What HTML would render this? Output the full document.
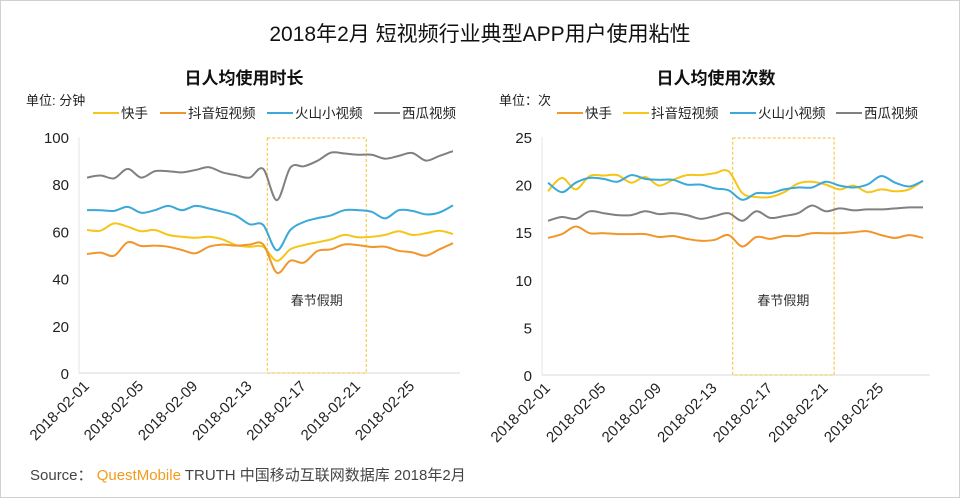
<!DOCTYPE html>
<html><head><meta charset="utf-8"><style>
body{margin:0;background:#fff;}
svg{display:block;font-family:"Liberation Sans","Noto Sans CJK SC",sans-serif;}
</style></head><body>
<svg id="s" width="960" height="498" viewBox="0 0 960 498">
<rect x="0.5" y="0.5" width="959" height="497" fill="#fff" stroke="#d0d0d0"/>
<text x="480" y="41" text-anchor="middle" font-size="21" fill="#111">2018年2月 短视频行业典型APP用户使用粘性</text>
<text x="30" y="480" font-size="15" fill="#444">Source： <tspan fill="#f29b1d">QuestMobile</tspan> TRUTH 中国移动互联网数据库 2018年2月</text>
</svg>
<script>
const dates=[];for(let d=1;d<=28;d++)dates.push('2018-02-'+String(d).padStart(2,'0'));
const tickDates=['2018-02-01','2018-02-05','2018-02-09','2018-02-13','2018-02-17','2018-02-21','2018-02-25'];
const leftTicks=[0,20,40,60,80,100];
const rightTicks=[0,5,10,15,20,25];
const leftNames=['快手','抖音短视频','火山小视频','西瓜视频'];
const rightNames=['快手','抖音短视频','火山小视频','西瓜视频'];
const leftKuaishou=[60.6,60.3,63.4,62,60.1,60.6,58.5,57.7,57.3,57.7,56.6,54.2,53.5,53.5,47.5,52.4,54.2,55.4,56.6,58.5,57.5,57.7,58.5,60.1,58.5,59.2,60.3,58.9];
const leftDouyin=[50.4,51,49.7,55.4,53.8,54,53.5,52.1,50.7,53.5,54.4,54,54.4,54.5,42.5,47.6,46.8,51.7,52.4,54.5,54.2,53.4,53.5,51.8,51.1,49.7,52.4,55];
const leftHuoshan=[69,69,68.7,70.4,67.9,69,70.8,69,70.8,69.7,68.3,66.6,63,62.7,52,60.6,64,65.6,66.8,69,69,68.3,65.5,69,68.7,67.2,68,71];
const leftXigua=[82.8,83.7,82.5,86.5,82.8,85.5,85.5,85,86,87.2,85,83.8,82.8,86.5,73.2,87,87.6,89.9,93.4,93,92.5,92.5,90.8,92,93.2,90,92,94];
const rightKuaishou=[14.4,14.8,15.6,14.9,14.9,14.8,14.8,14.8,14.5,14.6,14.3,14.1,14.2,14.7,13.5,14.5,14.3,14.6,14.6,14.9,14.9,14.9,15,15.1,14.7,14.4,14.7,14.4];
const rightDouyin=[19.3,20.7,19.5,20.9,20.95,21,20.2,20.8,19.9,20.5,21,21,21.2,21.4,19.1,18.7,18.7,19.2,20.1,20.3,20,19.5,19.9,19.2,19.5,19.3,19.5,20.4];
const rightHuoshan=[20.2,19.2,20.2,20.7,20.6,20.3,21,20.6,20.5,20.5,20,20,19.6,19.4,18.4,19.1,19.1,19.5,19.7,19.7,20.3,19.9,19.7,20,20.9,20.2,19.8,20.4];
const rightXigua=[16.2,16.6,16.4,17.2,17,16.8,16.8,17.2,16.9,17,16.8,16.4,16.7,17,16.2,17.2,16.5,16.7,17,17.8,17.2,17.5,17.3,17.4,17.4,17.5,17.6,17.6];
const holidayStart=14.3, holidayEnd=21.6;

const NS='http://www.w3.org/2000/svg';const svg=document.getElementById('s');
function mk(tag,at,parent){const e=document.createElementNS(NS,tag);for(const k in at)e.setAttribute(k,at[k]);(parent||svg).appendChild(e);return e;}
function smooth(pts){let d='M'+pts[0][0]+','+pts[0][1];for(let i=0;i<pts.length-1;i++){const p0=pts[Math.max(0,i-1)],p1=pts[i],p2=pts[i+1],p3=pts[Math.min(pts.length-1,i+2)];const c1x=p1[0]+(p2[0]-p0[0])/6,c1y=p1[1]+(p2[1]-p0[1])/6,c2x=p2[0]-(p3[0]-p1[0])/6,c2y=p2[1]-(p3[1]-p1[1])/6;d+=' C'+c1x.toFixed(1)+','+c1y.toFixed(1)+' '+c2x.toFixed(1)+','+c2y.toFixed(1)+' '+p2[0].toFixed(1)+','+p2[1].toFixed(1);}return d;}

function chart(o){
  const g=mk('g',{});
  
  
  const x=i=>o.x0+i*(o.x1-o.x0)/(dates.length-1);
  const y=v=>o.yb-(v/o.max)*(o.yb-o.yt);
  const t=mk('text',{x:o.titleX,y:84,'text-anchor':'middle','font-size':17,'font-weight':'bold',fill:'#111'},g);t.textContent=o.title;
  
  
  const u=mk('text',{x:o.unitX,y:105,'font-size':13,fill:'#222'},g);u.textContent=o.unit;
  
  
  o.ticks.forEach(v=>{const tx=mk('text',{x:o.axisX-10,y:y(v)+6,'text-anchor':'end','font-size':15,fill:'#222'},g);tx.textContent=v;
    
    });
  const ax=mk('line',{x1:o.axisX,y1:o.yt,x2:o.axisX,y2:o.yb,stroke:'#e4e4e4'},g);
  
  
  const bx=mk('line',{x1:o.axisX,y1:o.yb,x2:o.axisEnd,y2:o.yb,stroke:'#d9d9d9'},g);
  
  
  tickDates.forEach(dl=>{const i=dates.indexOf(dl);const px=x(i)+3,py=o.yb+14;const tx=mk('text',{x:px,y:py,'text-anchor':'end','font-size':15,fill:'#222',transform:'rotate(-45 '+px+' '+py+')'},g);tx.textContent=dl;
    
    });
  const hx0=x(holidayStart-1),hx1=x(holidayEnd-1);
  const hb=mk('rect',{x:hx0,y:o.yt+1,width:hx1-hx0,height:o.yb-o.yt-1,fill:'none',stroke:'#f2c12e','stroke-dasharray':'3,2','stroke-width':1},g);
  
  
  const ht=mk('text',{x:(hx0+hx1)/2,y:305,'text-anchor':'middle','font-size':13,fill:'#333'},g);ht.textContent='春节假期';
  
  
  o.series.forEach((s,k)=>{
    const p=mk('path',{d:smooth(s.data.map((v,i)=>[x(i),y(v)])),fill:'none',stroke:s.color,'stroke-width':2},g);
    
    
    const lx=o.legX[k];
    const ll=mk('line',{x1:lx,y1:113,x2:lx+26,y2:113,stroke:s.color,'stroke-width':2},g);
    
    
    const lt=mk('text',{x:lx+28,y:118,'font-size':13.5,fill:'#222'},g);lt.textContent=s.label;
    
    
  });
}
chart({name:'left-chart',title:'日人均使用时长',titleX:244,unit:'单位: 分钟',unitX:26,x0:87,x1:453,yt:137,yb:373,max:100,ticks:leftTicks,axisX:79,axisEnd:460,legX:[93,160,267,374],
 series:[{key:'kuaishou',label:leftNames[0],data:leftKuaishou,color:'#f5c518'},{key:'douyin',label:leftNames[1],data:leftDouyin,color:'#f0962a'},{key:'huoshan',label:leftNames[2],data:leftHuoshan,color:'#3aa8d8'},{key:'xigua',label:leftNames[3],data:leftXigua,color:'#808080'}]});
chart({name:'right-chart',title:'日人均使用次数',titleX:716,unit:'单位：次',unitX:499,x0:548,x1:923,yt:137,yb:375,max:25,ticks:rightTicks,axisX:542,axisEnd:930,legX:[557,623,730,836],
 series:[{key:'kuaishou',label:rightNames[0],data:rightKuaishou,color:'#f0962a'},{key:'douyin',label:rightNames[1],data:rightDouyin,color:'#f5c518'},{key:'huoshan',label:rightNames[2],data:rightHuoshan,color:'#3aa8d8'},{key:'xigua',label:rightNames[3],data:rightXigua,color:'#808080'}]});
</script>
</body></html>
